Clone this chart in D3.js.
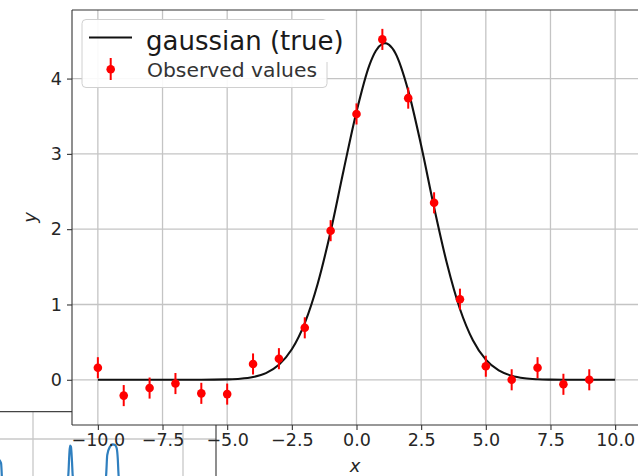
<!DOCTYPE html>
<html>
<head>
    <meta charset="utf-8">
    <title>Gaussian with observed values</title>
    <script src="https://d3js.org/d3.v7.min.js"></script>
    <style>
        body { margin: 0; background: white; }
        text { font-family: "DejaVu Sans", sans-serif; }
    </style>
</head>
<body>
<script>
    // observed points (x, y, error)
    var obsX = [-10, -9, -8, -7, -6, -5, -4, -3, -2, -1, 0, 1, 2, 3, 4, 5, 6, 7, 8, 9];
    var obsY = [0.16, -0.21, -0.11, -0.05, -0.18, -0.19, 0.21, 0.28, 0.69, 1.98, 3.53, 4.52, 3.74, 2.35, 1.07, 0.18, 0.0, 0.16, -0.06, 0.0];
    var obsErr = [0.14, 0.14, 0.14, 0.14, 0.14, 0.14, 0.14, 0.14, 0.14, 0.14, 0.14, 0.14, 0.14, 0.14, 0.14, 0.14, 0.14, 0.14, 0.14, 0.14];

    // true curve
    var curveX = [-10, -6, -5, -4.5, -4, -3.5, -3, -2.5, -2, -1.5, -1, -0.5, 0, 0.5, 0.75, 1, 1.1, 1.25, 1.5, 2, 2.5, 3, 3.5, 4, 4.5, 5, 5.5, 6, 6.5, 7, 7.5, 8, 10];
    var curveY = [0, 0, 0.005, 0.013, 0.036, 0.089, 0.199, 0.405, 0.753, 1.276, 1.97, 2.78, 3.56, 4.18, 4.37, 4.46, 4.47, 4.45, 4.34, 3.84, 3.11, 2.29, 1.54, 0.94, 0.525, 0.267, 0.124, 0.053, 0.02, 0.007, 0.002, 0, 0];

    var xTicks = [-10, -7.5, -5, -2.5, 0, 2.5, 5, 7.5, 10];
    var yTicks = [0, 1, 2, 3, 4];

    var legendLabels = ["gaussian (true)", "Observed values"];

    // bits of another plot window peeking in at the bottom left
    var bgGridX = [0, 1];
    var bgGridY = [1];
    var bgLineX = [-0.228, -0.213, -0.2, 0.2, 0.235, 0.242, 0.247, 0.253, 0.26, 0.265, 0.3, 0.45, 0.487, 0.495, 0.513, 0.531, 0.547, 0.558, 0.565, 0.571, 0.6];
    var bgLineY = [0.45, 0.35, -0.6, -0.6, 0, 0.568, 0.819, 0.792, 0.386, 0, -0.6, -0.6, 0, 0.568, 0.792, 0.857, 0.838, 0.749, 0.478, 0, -0.6];

    var W = 638, H = 476;
    var axL = 72, axR = 641, axT = 10, axB = 425;

    var svg = d3.select("body").append("svg")
        .attr("width", W)
        .attr("height", H);

    svg.append("rect").attr("width", W).attr("height", H).attr("fill", "white");

    // ---- background window ----
    var bx = d3.scaleLinear().domain([0, 1]).range([33, 183]);
    var by = d3.scaleLinear().domain([0, 1]).range([476, 439]);
    var bg = svg.append("g");
    bg.selectAll(".bgx").data(bgGridX).enter().append("line")
        .attr("x1", d => bx(d)).attr("x2", d => bx(d))
        .attr("y1", by(1.74)).attr("y2", H)
        .attr("stroke", "#c8c8c8").attr("stroke-width", 1.3);
    bg.selectAll(".bgy").data(bgGridY).enter().append("line")
        .attr("x1", 0).attr("x2", bx(1.22))
        .attr("y1", d => by(d)).attr("y2", d => by(d))
        .attr("stroke", "#c8c8c8").attr("stroke-width", 1.3);
    bg.append("line")
        .attr("x1", 0).attr("x2", bx(1.22))
        .attr("y1", by(1.74)).attr("y2", by(1.74))
        .attr("stroke", "#444").attr("stroke-width", 1.2);
    bg.append("line")
        .attr("x1", bx(1.22)).attr("x2", bx(1.22))
        .attr("y1", by(1.74)).attr("y2", H)
        .attr("stroke", "#444").attr("stroke-width", 1.2);
    var bgPts = bgLineX.map((x, i) => [x, bgLineY[i]]);
    bg.append("path")
        .datum(bgPts)
        .attr("fill", "none")
        .attr("stroke", "#2f7fbf")
        .attr("stroke-width", 2.2)
        .attr("d", d3.line().x(d => bx(d[0])).y(d => by(d[1])).curve(d3.curveMonotoneX));

    // ---- main axes ----
    var lo = d3.min(obsY.map((v, i) => v - obsErr[i]));
    var hi = d3.max(obsY.map((v, i) => v + obsErr[i]));
    var padY = (hi - lo) * 0.05;
    var padX = (d3.max(curveX) - d3.min(curveX)) * 0.05;

    var x = d3.scaleLinear()
        .domain([d3.min(curveX) - padX, d3.max(curveX) + padX])
        .range([axL, axR]);
    var y = d3.scaleLinear()
        .domain([lo - padY, hi + padY])
        .range([axB, axT]);

    svg.append("rect")
        .attr("x", axL).attr("y", axT)
        .attr("width", axR - axL).attr("height", axB - axT)
        .attr("fill", "white");

    // grid
    svg.append("g").selectAll("line").data(xTicks).enter().append("line")
        .attr("x1", d => x(d)).attr("x2", d => x(d))
        .attr("y1", axT).attr("y2", axB)
        .attr("stroke", "#c4c4c4").attr("stroke-width", 1.3);
    svg.append("g").selectAll("line").data(yTicks).enter().append("line")
        .attr("x1", axL).attr("x2", axR)
        .attr("y1", d => y(d)).attr("y2", d => y(d))
        .attr("stroke", "#c4c4c4").attr("stroke-width", 1.3);

    // axes
    var xAxis = d3.axisBottom(x).tickValues(xTicks).tickFormat(d3.format(".1f")).tickSize(5).tickPadding(4);
    var yAxis = d3.axisLeft(y).tickValues(yTicks).tickFormat(d3.format("d")).tickSize(5).tickPadding(5);

    var gx = svg.append("g").attr("transform", "translate(0," + axB + ")").call(xAxis);
    var gy = svg.append("g").attr("transform", "translate(" + axL + ",0)").call(yAxis);
    [gx, gy].forEach(function(g) {
        g.select(".domain").remove();
        g.selectAll(".tick line").attr("stroke", "#333").attr("stroke-width", 1.1);
        g.selectAll(".tick text")
            .attr("fill", "#262626")
            .style("font-size", "17.5px")
            .style("font-family", "DejaVu Sans");
    });

    // spines
    svg.append("line").attr("x1", axL).attr("x2", axL).attr("y1", axT).attr("y2", axB)
        .attr("stroke", "#333").attr("stroke-width", 1.1);
    svg.append("line").attr("x1", axL).attr("x2", axR).attr("y1", axB).attr("y2", axB)
        .attr("stroke", "#333").attr("stroke-width", 1.1);
    svg.append("line").attr("x1", axL).attr("x2", axR).attr("y1", axT).attr("y2", axT)
        .attr("stroke", "#333").attr("stroke-width", 1.1);

    // true gaussian
    var curvePts = curveX.map((v, i) => [v, curveY[i]]);
    svg.append("path")
        .datum(curvePts)
        .attr("fill", "none")
        .attr("stroke", "#111")
        .attr("stroke-width", 2.1)
        .attr("d", d3.line().x(d => x(d[0])).y(d => y(d[1])).curve(d3.curveMonotoneX));

    // observed with errorbars
    var obs = obsX.map((v, i) => ({x: v, y: obsY[i], e: obsErr[i]}));
    svg.append("g").selectAll("line").data(obs).enter().append("line")
        .attr("x1", d => x(d.x)).attr("x2", d => x(d.x))
        .attr("y1", d => y(d.y - d.e)).attr("y2", d => y(d.y + d.e))
        .attr("stroke", "red").attr("stroke-width", 2);
    svg.append("g").selectAll("circle").data(obs).enter().append("circle")
        .attr("cx", d => x(d.x)).attr("cy", d => y(d.y))
        .attr("r", 4.3)
        .attr("fill", "red");

    // legend
    var leg = svg.append("g");
    leg.append("rect")
        .attr("x", 82).attr("y", 19.5)
        .attr("width", 245).attr("height", 68)
        .attr("rx", 4)
        .attr("fill", "white").attr("fill-opacity", 0.9)
        .attr("stroke", "#d0d0d0").attr("stroke-width", 1);
    leg.append("rect")
        .attr("x", 134).attr("y", 20).attr("width", 213).attr("height", 42)
        .attr("fill", "white");
    leg.append("line")
        .attr("x1", 89).attr("x2", 132).attr("y1", 37.5).attr("y2", 37.5)
        .attr("stroke", "#111").attr("stroke-width", 2.1);
    leg.append("text")
        .attr("x", 146).attr("y", 49.5)
        .attr("fill", "#1a1a1a")
        .style("font-size", "26px")
        .text(legendLabels[0]);
    leg.append("line")
        .attr("x1", 110.7).attr("x2", 110.7).attr("y1", 58).attr("y2", 80)
        .attr("stroke", "red").attr("stroke-width", 2);
    leg.append("circle")
        .attr("cx", 110.7).attr("cy", 69.3).attr("r", 4.3).attr("fill", "red");
    leg.append("text")
        .attr("x", 147).attr("y", 77)
        .attr("fill", "#333")
        .style("font-size", "20.3px")
        .text(legendLabels[1]);

    // axis labels
    svg.append("text")
        .attr("x", 355).attr("y", 472)
        .attr("text-anchor", "middle")
        .attr("fill", "#262626")
        .style("font-size", "18px")
        .style("font-style", "italic")
        .text("x");
    svg.append("text")
        .attr("transform", "translate(36,217.5) rotate(-90)")
        .attr("text-anchor", "middle")
        .attr("fill", "#262626")
        .style("font-size", "18px")
        .style("font-style", "italic")
        .text("y");
</script>
</body>
</html>
